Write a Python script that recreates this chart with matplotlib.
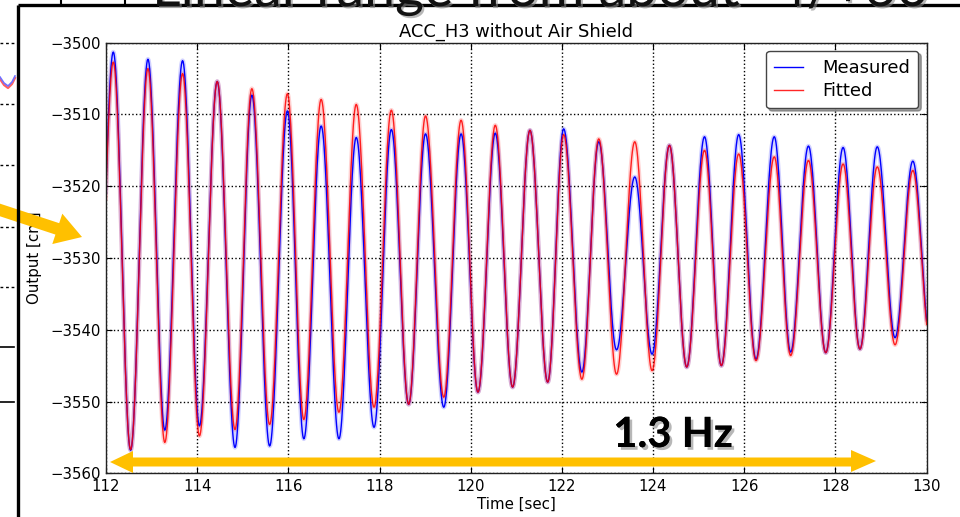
import numpy as np
import matplotlib
matplotlib.use("Agg")
import matplotlib.pyplot as plt
from matplotlib.patches import Polygon, FancyArrow
import matplotlib.patheffects as pe

# ---------------- data ----------------
peak_t = [112.16, 112.92, 113.68, 114.44, 115.20, 115.98, 116.72, 117.49, 118.26, 119.01,
          119.79, 120.54, 121.30, 122.04, 122.81, 123.60, 124.36, 125.13, 125.88, 126.66,
          127.41, 128.17, 128.92, 129.70]
trough_t = [111.78, 112.54, 113.29, 114.05, 114.83, 115.59, 116.34, 117.11, 117.88, 118.64,
            119.41, 120.16, 120.92, 121.69, 122.44, 123.20, 123.98, 124.74, 125.50, 126.26,
            127.02, 127.79, 128.54, 129.31, 130.08]

meas_peak = [-3501.3, -3502.3, -3502.5, -3505.4, -3507.3, -3509.5, -3511.6, -3513.2, -3512.1, -3512.7,
             -3512.7, -3512.6, -3512.2, -3512.0, -3513.8, -3518.7, -3514.3, -3513.1, -3512.8, -3513.1,
             -3514.4, -3514.6, -3514.5, -3516.5]
meas_trough = [-3551.0, -3556.8, -3554.0, -3553.4, -3556.4, -3556.2, -3555.2, -3555.2, -3553.6, -3550.4,
               -3550.8, -3548.7, -3548.0, -3547.3, -3545.9, -3542.8, -3543.4, -3545.2, -3545.0, -3544.1,
               -3543.1, -3543.2, -3542.7, -3541.1, -3541.0]

fit_peak = [-3502.7, -3503.6, -3504.3, -3505.4, -3506.4, -3507.1, -3507.9, -3508.6, -3509.4, -3510.2,
            -3510.8, -3511.5, -3512.2, -3512.8, -3513.4, -3513.8, -3514.3, -3515.0, -3515.5, -3515.9,
            -3516.4, -3516.9, -3517.3, -3517.8]
fit_trough = [-3551.0, -3556.7, -3555.7, -3554.8, -3553.9, -3553.2, -3552.5, -3551.5, -3550.8, -3550.4,
              -3549.4, -3548.7, -3548.0, -3547.3, -3546.9, -3546.2, -3545.7, -3545.2, -3545.0, -3544.3,
              -3543.6, -3543.2, -3542.7, -3542.1, -3541.5]

x_ticks = [112, 114, 116, 118, 120, 122, 124, 126, 128, 130]
y_ticks = [-3560, -3550, -3540, -3530, -3520, -3510, -3500]

title = "ACC_H3 without Air Shield"
x_label = "Time [sec]"
y_label = "Output [cnt]"
series_names = ["Measured", "Fitted"]
annot_text = "1.3 Hz"
slide_title = "Linear range from about -4/+60"


def extrema_curve(pk_t, pk, tr_t, tr, n=30):
    t, v = [], []
    for i in range(len(pk)):
        t += [tr_t[i], pk_t[i]]
        v += [tr[i], pk[i]]
    t.append(tr_t[-1]); v.append(tr[-1])
    xs, ys = [], []
    for i in range(len(t) - 1):
        s = np.linspace(0, 1, n, endpoint=False)
        xs.append(t[i] + (t[i + 1] - t[i]) * s)
        ys.append(v[i] + (v[i + 1] - v[i]) * (1 - np.cos(np.pi * s)) / 2)
    xs.append([t[-1]]); ys.append([v[-1]])
    return np.concatenate(xs), np.concatenate(ys)


W, H = 960, 517
fig = plt.figure(figsize=(W / 100, H / 100), dpi=100)
fig.patch.set_facecolor("white")

ax = fig.add_axes([106 / W, 1 - 473.3 / H, (926.5 - 106) / W, (473.3 - 42.7) / H])

mx, my = extrema_curve(peak_t, meas_peak, trough_t, meas_trough)
fx, fy = extrema_curve(peak_t, fit_peak, trough_t, fit_trough)

ax.plot(mx, my, color="#0000ff", lw=3.2, alpha=0.18, solid_capstyle="round")
ax.plot(fx, fy, color="#ff0000", lw=3.2, alpha=0.18, solid_capstyle="round")
ax.plot(mx, my, color="#0000ff", lw=1.0, label=series_names[0])
ax.plot(fx, fy, color="#ff0000", lw=1.0, alpha=0.85, label=series_names[1])

ax.set_xlim(112, 130)
ax.set_ylim(-3560, -3500)
ax.set_xticks(x_ticks)
ax.set_yticks(y_ticks)
ax.set_xticklabels([str(v) for v in x_ticks])
ax.set_yticklabels(["\u2212" + str(abs(v)) for v in y_ticks])
ax.tick_params(direction="in", top=True, right=True, length=4, width=0.8,
               labelsize=10.7, pad=4)
ax.grid(True, linestyle=":", color="black", lw=1.0)
for sp in ax.spines.values():
    sp.set_color("#222222")
    sp.set_linewidth(1.0)
ax.set_title(title, fontsize=12.9, pad=4)
ax.set_xlabel(x_label, fontsize=10.8, labelpad=2)
ax.set_ylabel(y_label, fontsize=10.8, labelpad=6)
leg = ax.legend(loc="upper right", fontsize=12.9, fancybox=True, shadow=True,
                handlelength=1.6, handletextpad=1.1, borderpad=0.45,
                labelspacing=0.3, framealpha=1, edgecolor="#444444",
                borderaxespad=0.45)

# ---------------- slide decorations (pixel coordinates) ----------------
ov = fig.add_axes([0, 0, 1, 1], zorder=10)
ov.set_xlim(0, W)
ov.set_ylim(H, 0)
ov.axis("off")
ov.patch.set_alpha(0)

gold = "#FFC000"

# frame of the pasted picture
ov.plot([18, 18], [5, H], color="black", lw=2.4, solid_capstyle="butt")
ov.plot([18, W], [5, 5], color="black", lw=2.4, solid_capstyle="butt")
ov.plot([61, 61], [0, 5], color="black", lw=1.5)
ov.plot([125, 125], [0, 5], color="black", lw=1.5)

# partial background chart at the far left
for yy in [43, 104, 165, 227, 287]:
    ov.plot([0, 14], [yy, yy], color="black", lw=1.0, ls=(0, (2, 2)))
ov.plot([0, 14], [347, 347], color="black", lw=1.2)
ov.plot([0, 14], [402, 402], color="black", lw=1.2)
ov.plot([0, 4, 8, 12, 15], [79, 85, 88, 84, 78], color="#ff6060", lw=1.6)
ov.plot([0, 4, 8, 12, 15], [77, 83, 86, 82, 76], color="#7070ff", lw=1.2)

# big slide title, mostly cut off at the top (as in the slide)
ov.text(152, 6, slide_title, fontsize=40, family="Lato", color="#111111",
        va="baseline", ha="left",
        path_effects=[pe.withSimplePatchShadow(offset=(1.5, -1.5), shadow_rgbFace="#888888", alpha=0.6)])

# diagonal arrow pointing into the chart
ov.add_patch(FancyArrow(-6, 208, 88, 29, width=12, head_width=32, head_length=26,
                        length_includes_head=True, color=gold, lw=0))

# horizontal double-headed arrow
ov.add_patch(Polygon([[110, 462], [133, 451], [133, 457.5], [851, 457.5], [851, 450],
                      [876, 461], [851, 472], [851, 466.5], [133, 466.5], [133, 473]],
                     closed=True, color=gold, lw=0))

ov.text(673, 447, annot_text, fontsize=30, family="Lato", fontweight="bold",
        color="black", ha="center", va="baseline",
        path_effects=[pe.withSimplePatchShadow(offset=(2, -2), shadow_rgbFace="#999999", alpha=0.7),
                      pe.Normal()])

fig.savefig("out.png", dpi=100, facecolor="white")
